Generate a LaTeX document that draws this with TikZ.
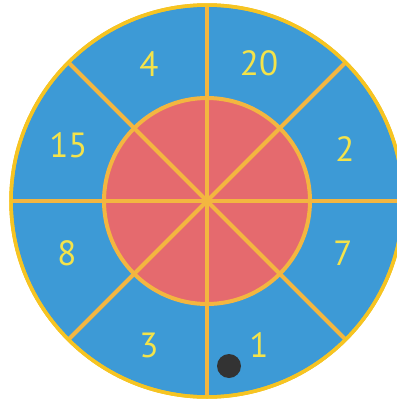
\documentclass[tikz,border=0pt]{standalone}
\usepackage{fontspec}
\setmainfont{PT Sans}
\usetikzlibrary{calc}
\definecolor{boardblue}{HTML}{3D9AD6}
\definecolor{boardred}{HTML}{E56A6E}
\definecolor{lineorange}{HTML}{F3B640}
\definecolor{rimyellow}{HTML}{F6C422}
\definecolor{numyellow}{HTML}{F4E34A}
\definecolor{dotgrey}{HTML}{333333}
\begin{document}
\begin{tikzpicture}[x=1pt,y=-1pt,
  num/.style={text=numyellow,font=\fontsize{35}{35}\selectfont,inner sep=0pt},
  spoke/.style={draw=lineorange,line width=4pt},
]
\useasboundingbox (0,0) rectangle (397,400);
\fill[white] (0,0) rectangle (397,400);
\coordinate (c) at (207,201);
\begin{scope}
\clip (0,0) rectangle (397,400);
\filldraw[fill=boardblue,draw=rimyellow,line width=3.5pt] (c) circle[radius=196];
\fill[boardred] (c) circle[radius=103];
\foreach \a/\n in {0/e,45/ne,90/n,135/nw,180/w,225/sw,270/s,315/se}{
  \coordinate (\n) at ($(c)+(\a:196)$);
}
\draw[spoke] (e) -- (w);
\draw[spoke] (n) -- (s);
\draw[spoke] (ne) -- (sw);
\draw[spoke] (nw) -- (se);
\draw[draw=lineorange,line width=4pt] (c) circle[radius=103];
\draw[draw=rimyellow,line width=3.5pt] (c) circle[radius=196];
\end{scope}
\node[num] (l4) at (149,64.5) {4};
\node[num] (l20) at (259,63) {20};
\node[num] (l15) at (68.5,145.5) {15};
\node[num] (l2) at (345,149) {2};
\node[num] (l8) at (67,253) {8};
\node[num] (l7) at (343,253) {7};
\node[num] (l3) at (149,345) {3};
\node[num] (l1) at (259,345) {1};
\fill[dotgrey] (229,366) circle[radius=12];
\end{tikzpicture}
\end{document}
